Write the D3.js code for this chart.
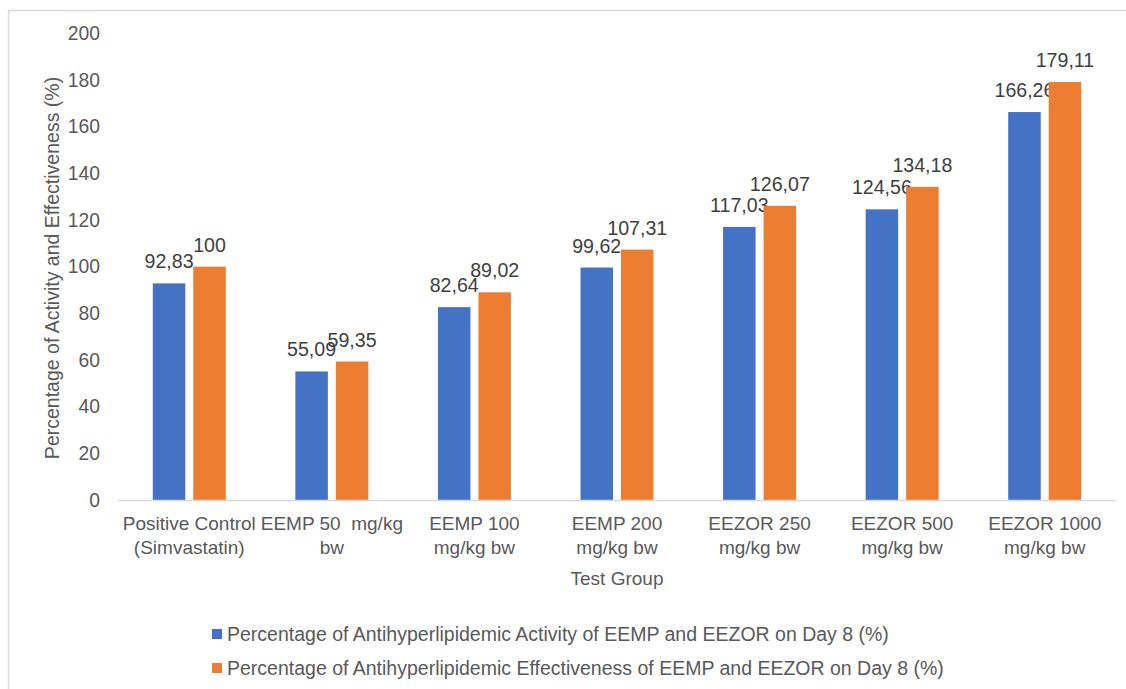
<!DOCTYPE html>
<html>
<head>
<meta charset="utf-8">
<script src="https://cdn.jsdelivr.net/npm/d3@7"></script>
<style>
  html, body { margin: 0; padding: 0; background: #fff; }
  svg { display: block; }
  text { font-family: "Liberation Sans", Arial, Helvetica, sans-serif; }
</style>
</head>
<body>
<svg id="chart" width="1126" height="689"></svg>
<script>
const categories = [
  ["Positive Control", "(Simvastatin)"],
  ["EEMP 50  mg/kg", "bw"],
  ["EEMP 100", "mg/kg bw"],
  ["EEMP 200", "mg/kg bw"],
  ["EEZOR 250", "mg/kg bw"],
  ["EEZOR 500", "mg/kg bw"],
  ["EEZOR 1000", "mg/kg bw"]
];
const seriesNames = [
  "Percentage of Antihyperlipidemic Activity of EEMP and EEZOR on Day 8 (%)",
  "Percentage of Antihyperlipidemic Effectiveness of EEMP and EEZOR on Day 8 (%)"
];
const activity = [92.83, 55.09, 82.64, 99.62, 117.03, 124.56, 166.26];
const effectiveness = [100, 59.35, 89.02, 107.31, 126.07, 134.18, 179.11];
const yTicks = [0, 20, 40, 60, 80, 100, 120, 140, 160, 180, 200];
const colors = ["#4472C4", "#ED7D31"];

const svg = d3.select("#chart");

// outer border
svg.append("rect")
  .attr("x", 8.5).attr("y", 10.5)
  .attr("width", 1300).attr("height", 900)
  .attr("fill", "none").attr("stroke", "#d9d9d9").attr("stroke-width", 1.5);

const plot = { left: 118, right: 1116, top: 33.3, bottom: 500 };

const y = d3.scaleLinear().domain([0, 200]).range([plot.bottom, plot.top]);
const x0 = d3.scaleBand()
  .domain(d3.range(categories.length))
  .range([plot.left, plot.right])
  .paddingInner(0.488).paddingOuter(0.244);
const x1 = d3.scaleBand()
  .domain([0, 1])
  .range([0, x0.bandwidth()])
  .paddingInner(0.1975);

// y axis (labels only)
const yAxis = d3.axisLeft(y).tickValues(yTicks).tickSize(0).tickPadding(0);
const yg = svg.append("g").attr("transform", `translate(100,0)`).call(yAxis);
yg.select(".domain").remove();
yg.selectAll("text")
  .attr("fill", "#595959").attr("font-size", 19.3)
  .style("font-family", '"Liberation Sans", Arial, sans-serif');

// bars
const seriesData = [activity, effectiveness];
seriesData.forEach((vals, si) => {
  svg.append("g").selectAll("rect")
    .data(vals)
    .join("rect")
    .attr("x", (d, i) => x0(i) + x1(si))
    .attr("y", d => y(d))
    .attr("width", x1.bandwidth())
    .attr("height", d => y(0) - y(d))
    .attr("fill", colors[si]);
  svg.append("g").selectAll("text")
    .data(vals)
    .join("text")
    .attr("x", (d, i) => x0(i) + x1(si) + x1.bandwidth() / 2)
    .attr("y", d => y(d) - 15)
    .attr("text-anchor", "middle")
    .attr("font-size", 19.6)
    .attr("fill", "#404040")
    .text(d => String(d).replace(".", ","));
});

// x axis line
svg.append("line")
  .attr("x1", plot.left).attr("x2", plot.right)
  .attr("y1", y(0) + 0.5).attr("y2", y(0) + 0.5)
  .attr("stroke", "#d9d9d9").attr("stroke-width", 1.5);

// x category labels
const xg = svg.append("g");
categories.forEach((lines, i) => {
  const cx = x0(i) + x0.bandwidth() / 2;
  const t = xg.append("text")
    .attr("text-anchor", "middle")
    .attr("font-size", 19)
    .attr("fill", "#595959")
    .style("white-space", "pre")
    .attr("xml:space", "preserve");
  lines.forEach((ln, k) => {
    t.append("tspan").attr("x", cx).attr("y", 530 + k * 24).text(ln);
  });
});

// axis titles
svg.append("text")
  .attr("x", 617).attr("y", 585)
  .attr("text-anchor", "middle")
  .attr("font-size", 19).attr("fill", "#595959")
  .text("Test Group");

svg.append("text")
  .attr("transform", "translate(59,268) rotate(-90)")
  .attr("text-anchor", "middle")
  .attr("font-size", 19.5).attr("fill", "#595959")
  .text("Percentage of Activity and Effectiveness (%)");

// legend
const legendY = [634, 668];
seriesNames.forEach((name, i) => {
  svg.append("rect")
    .attr("x", 212).attr("y", legendY[i] - 5)
    .attr("width", 10).attr("height", 10)
    .attr("fill", colors[i]);
  svg.append("text")
    .attr("x", 227).attr("y", legendY[i] + 7)
    .attr("font-size", 19.5).attr("fill", "#595959")
    .text(name);
});
</script>
</body>
</html>
